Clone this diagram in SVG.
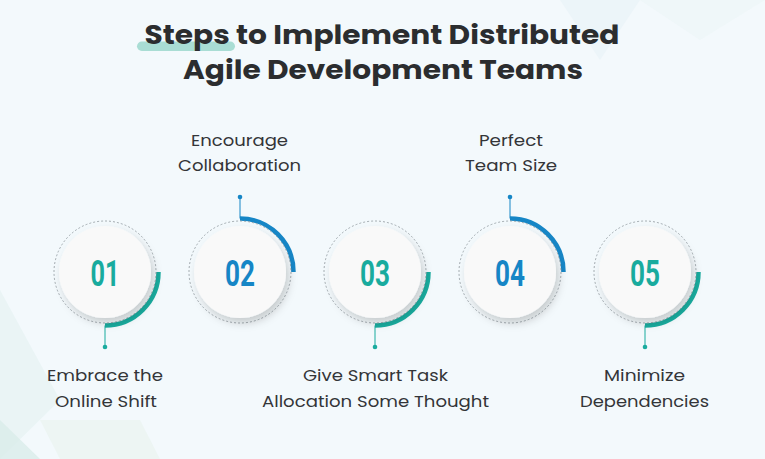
<svg xmlns="http://www.w3.org/2000/svg" width="765" height="459" viewBox="0 0 765 459">
<defs>
<style>
.title{font-family:"Poppins","Open Sans","Liberation Sans",sans-serif;font-weight:700;font-size:26px;fill:#2b2d2f;text-anchor:middle}
.lbl{font-family:"Poppins","Open Sans","Liberation Sans",sans-serif;font-size:16.5px;fill:#333538;text-anchor:middle}
.num{font-family:"Roboto","DejaVu Sans Condensed","Liberation Sans",sans-serif;font-weight:700;font-size:37px;text-anchor:middle}
.dash{fill:none;stroke:#8f989d;stroke-width:0.8;stroke-dasharray:2 2}
.disc{fill:#f9f9f9;filter:url(#sh)}
.teal{stroke:#19ab9e;fill:none}
.blue{stroke:#1686c6;fill:none}
.arc{stroke-width:4.5}
.stem{stroke-width:1}
</style>
<filter id="sh" x="-30%" y="-30%" width="170%" height="170%">
<feDropShadow dx="3" dy="5" stdDeviation="4" flood-color="#000" flood-opacity="0.18"/>
</filter>
</defs>
<rect width="765" height="459" fill="#f3f9fc"/>
<polygon points="0,290 60,400 0,459" fill="#e6f2f2" opacity="0.7"/>
<polygon points="0,420 40,459 0,459" fill="#d9ecea" opacity="0.8"/>
<polygon points="40,420 140,420 160,459 60,459" fill="#e9f3ef" opacity="0.7"/>
<polygon points="560,0 640,0 600,60" fill="#eaf4f7" opacity="0.8"/>
<polygon points="640,0 765,0 700,40" fill="#eef6f8" opacity="0.8"/>

<rect x="137" y="41.5" width="98" height="9.5" rx="4.75" fill="#a9ddd4"/>
<text class="title" x="382" y="44" textLength="475" lengthAdjust="spacingAndGlyphs">Steps to Implement Distributed</text>
<text class="title" x="383" y="79" textLength="400" lengthAdjust="spacingAndGlyphs">Agile Development Teams</text>

<g id="connectors">
<path class="teal arc" d="M158.5 272 A53.5 53.5 0 0 1 105 325.5"/>
<line class="teal stem" x1="105" y1="325.5" x2="105" y2="347"/>
<circle cx="105" cy="347" r="2.3" fill="#19ab9e"/>
<path class="blue arc" d="M240 218.5 A53.5 53.5 0 0 1 293.5 272"/>
<line class="blue stem" x1="240" y1="218.5" x2="240" y2="197"/>
<circle cx="240" cy="197" r="2.3" fill="#1686c6"/>
<path class="teal arc" d="M428.5 272 A53.5 53.5 0 0 1 375 325.5"/>
<line class="teal stem" x1="375" y1="325.5" x2="375" y2="347"/>
<circle cx="375" cy="347" r="2.3" fill="#19ab9e"/>
<path class="blue arc" d="M510 218.5 A53.5 53.5 0 0 1 563.5 272"/>
<line class="blue stem" x1="510" y1="218.5" x2="510" y2="197"/>
<circle cx="510" cy="197" r="2.3" fill="#1686c6"/>
<path class="teal arc" d="M698.5 272 A53.5 53.5 0 0 1 645 325.5"/>
<line class="teal stem" x1="645" y1="325.5" x2="645" y2="347"/>
<circle cx="645" cy="347" r="2.3" fill="#19ab9e"/>
</g>

<g id="step1">
<circle class="dash" cx="105" cy="272" r="51"/>
<circle class="disc" cx="105" cy="272" r="46"/>
<text class="num" x="105" y="285.5" fill="#19ab9e" textLength="29" lengthAdjust="spacingAndGlyphs">01</text>
<text class="lbl" x="105" y="381" textLength="116" lengthAdjust="spacingAndGlyphs">Embrace the</text>
<text class="lbl" x="106" y="407" textLength="102" lengthAdjust="spacingAndGlyphs">Online Shift</text>
</g>
<g id="step2">
<circle class="dash" cx="240" cy="272" r="51"/>
<circle class="disc" cx="240" cy="272" r="46"/>
<text class="num" x="240" y="285.5" fill="#1686c6" textLength="30" lengthAdjust="spacingAndGlyphs">02</text>
<text class="lbl" x="239.5" y="146" textLength="97" lengthAdjust="spacingAndGlyphs">Encourage</text>
<text class="lbl" x="239.5" y="171" textLength="123" lengthAdjust="spacingAndGlyphs">Collaboration</text>
</g>
<g id="step3">
<circle class="dash" cx="375" cy="272" r="51"/>
<circle class="disc" cx="375" cy="272" r="46"/>
<text class="num" x="375" y="285.5" fill="#19ab9e" textLength="30" lengthAdjust="spacingAndGlyphs">03</text>
<text class="lbl" x="375.5" y="381" textLength="145" lengthAdjust="spacingAndGlyphs">Give Smart Task</text>
<text class="lbl" x="375.5" y="407" textLength="227" lengthAdjust="spacingAndGlyphs">Allocation Some Thought</text>
</g>
<g id="step4">
<circle class="dash" cx="510" cy="272" r="51"/>
<circle class="disc" cx="510" cy="272" r="46"/>
<text class="num" x="510" y="285.5" fill="#1686c6" textLength="30" lengthAdjust="spacingAndGlyphs">04</text>
<text class="lbl" x="511" y="146" textLength="64" lengthAdjust="spacingAndGlyphs">Perfect</text>
<text class="lbl" x="511" y="171" textLength="92" lengthAdjust="spacingAndGlyphs">Team Size</text>
</g>
<g id="step5">
<circle class="dash" cx="645" cy="272" r="51"/>
<circle class="disc" cx="645" cy="272" r="46"/>
<text class="num" x="645" y="285.5" fill="#19ab9e" textLength="30" lengthAdjust="spacingAndGlyphs">05</text>
<text class="lbl" x="644.5" y="381" textLength="81" lengthAdjust="spacingAndGlyphs">Minimize</text>
<text class="lbl" x="644.5" y="407" textLength="129" lengthAdjust="spacingAndGlyphs">Dependencies</text>
</g>
</svg>
